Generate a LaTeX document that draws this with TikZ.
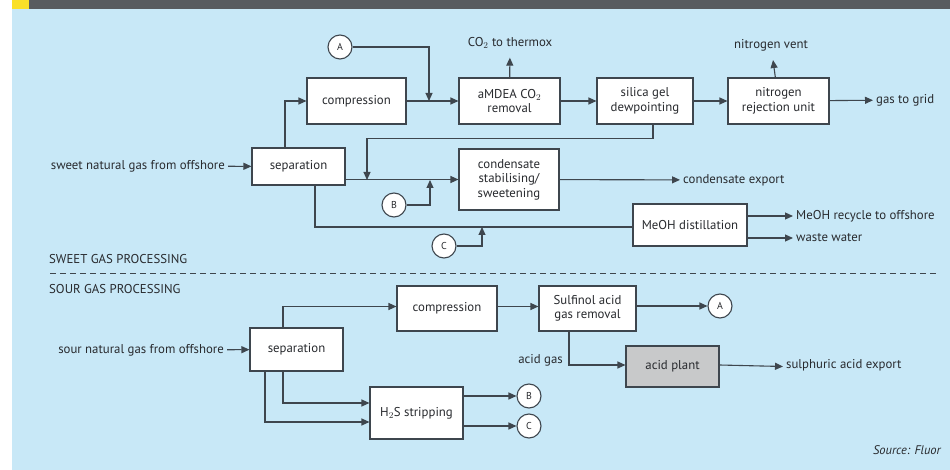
\documentclass[tikz,border=0pt]{standalone}
\usepackage{fontspec}
\setmainfont{PT Sans}
\usetikzlibrary{arrows.meta}
\definecolor{bgblue}{RGB}{200,232,247}
\definecolor{bargray}{RGB}{88,92,96}
\definecolor{baryellow}{RGB}{250,224,40}
\definecolor{plantgray}{RGB}{200,201,202}
\definecolor{linegray}{RGB}{62,70,78}
\definecolor{inkgray}{RGB}{40,42,46}
\tikzset{
  unit/.style={draw=linegray, line width=1.1pt, fill=white, align=center, inner sep=1pt, text=inkgray},
  tag/.style={circle, draw=linegray, line width=1.1pt, fill=white, minimum size=24pt, inner sep=0pt, font=\fontsize{10}{12}\selectfont, text=inkgray},
  label/.style={inner sep=3pt, text=inkgray},
  flow/.style={draw=linegray, line width=1.1pt, -{Triangle[length=8pt,width=7pt]}},
  pipe/.style={draw=linegray, line width=1.1pt}
}
\begin{document}
\begin{tikzpicture}[x=1pt, y=-1pt, font=\fontsize{12.8}{14.5}\selectfont]
        \useasboundingbox (0,0) rectangle (950,470);
        \fill[bgblue] (12,9) rectangle (950,470);
        \fill[bargray] (12,0) rectangle (950,9);
        \fill[baryellow] (12,0) rectangle (29,9);
        % sweet gas processing
        \node[label, anchor=east] (in1) at (228,166) {sweet natural gas from offshore};
        \node[unit, minimum width=93pt, minimum height=37pt] (sep1) at (298.5,166.5) {separation};
        \node[unit, minimum width=99pt, minimum height=46pt] (comp1) at (356.5,101) {compression};
        \node[unit, minimum width=101pt, minimum height=46pt] (amdea) at (509.5,101) {aMDEA CO$_2$\\removal};
        \node[unit, minimum width=96pt, minimum height=46pt] (silica) at (645,101) {silica gel\\dewpointing};
        \node[unit, minimum width=101pt, minimum height=46pt] (nru) at (778.5,101) {nitrogen\\rejection unit};
        \node[unit, minimum width=100pt, minimum height=61pt] (cond) at (509,179.5) {condensate\\stabilising/\\sweetening};
        \node[unit, minimum width=114pt, minimum height=42pt] (meoh) at (690,225) {MeOH distillation};
        \node[tag] (A1) at (340,47) {A};
        \node[tag] (B1) at (394,205) {B};
        \node[tag] (C1) at (444,246) {C};
        \node[label] (co2) at (510,43) {CO$_2$ to thermox};
        \node[label] (vent) at (771,45) {nitrogen vent};
        \node[label, anchor=west] (grid) at (873,100) {gas to grid};
        \node[label, anchor=west] (condexp) at (680,180) {condensate export};
        \node[label, anchor=west] (recycle) at (793,216) {MeOH recycle to offshore};
        \node[label, anchor=west] (waste) at (793,238) {waste water};
        \coordinate (jA) at (429,101);
        \coordinate (jS) at (367,180);
        \coordinate (jB) at (430,180);
        \coordinate (jC) at (482,227);
        \draw[flow] (in1) -- (sep1);
        \draw[flow] ([xshift=-13.5pt]sep1.north) |- (comp1);
        \draw[flow] (comp1) -- (amdea);
        \draw[flow] (A1) -| (jA);
        \draw[flow, shorten >=6pt] (amdea) -- (co2);
        \draw[flow] (amdea) -- (silica);
        \draw[flow] (silica) -- (nru);
        \draw[flow, shorten >=6pt] (nru) -- (vent);
        \draw[flow] (nru) -- (grid);
        \draw[flow] ([xshift=8pt]silica.south) -- ++(0,14) -| (jS);
        \draw[flow] (sep1.east |- cond.west) -- (cond.west);
        \draw[flow] (B1) -| (jB);
        \draw[flow] (cond) -- (condexp);
        \draw[pipe] ([xshift=16.5pt]sep1.south) |- ([yshift=-2pt]meoh.west);
        \draw[flow] (C1) -| (jC);
        \draw[flow] (meoh.east |- recycle) -- (recycle);
        \draw[flow] (meoh.east |- waste) -- (waste);
        % divider
        \node[label, anchor=west] (sweet) at (46,259) {SWEET GAS PROCESSING};
        \node[label, anchor=west] (sour) at (46,289) {SOUR GAS PROCESSING};
        \coordinate (dl) at (50,273);
        \coordinate (dr) at (938,273);
        \draw[pipe, dashed, dash pattern=on 6pt off 4pt, line width=0.8pt] (dl) -- (dr);
        % sour gas processing
        \node[label, anchor=east] (in2) at (227,350) {sour natural gas from offshore};
        \node[unit, minimum width=93pt, minimum height=43pt] (sep2) at (296.5,349.5) {separation};
        \node[unit, minimum width=100pt, minimum height=45pt] (comp2) at (447,308.5) {compression};
        \node[unit, minimum width=97pt, minimum height=45pt] (sulf) at (587.5,308.5) {Sulfinol acid\\gas removal};
        \node[unit, fill=plantgray, minimum width=93pt, minimum height=41pt] (acid) at (672.5,366.5) {acid plant};
        \node[unit, minimum width=93pt, minimum height=52pt] (h2s) at (416.5,413) {H$_2$S stripping};
        \node[tag] (A2) at (720,306) {A};
        \node[tag] (B2) at (529,396) {B};
        \node[tag] (C2) at (529,426) {C};
        \node[label, anchor=east] (acidgas) at (566,360) {acid gas};
        \node[label, anchor=west] (sulph) at (783,365) {sulphuric acid export};
        \draw[flow] (in2) -- (sep2);
        \draw[flow] ([xshift=-13.5pt]sep2.north) |- ([yshift=2pt]comp2.west);
        \draw[flow] ([yshift=2pt]comp2.east) -- ([yshift=2pt]sulf.west);
        \draw[flow] (sulf.east |- A2) -- (A2);
        \draw[flow] ([xshift=-18.5pt]sulf.south) |- ([yshift=1.5pt]acid.west);
        \draw[flow] ([yshift=1.5pt]acid.east) -- (sulph.west |- acid.east);
        \draw[flow] ([xshift=-13.5pt]sep2.south) |- ([yshift=10pt]h2s.west);
        \draw[flow] ([xshift=-31.5pt]sep2.south) |- ([yshift=-9pt]h2s.west);
        \draw[flow] (h2s.east |- B2) -- (B2);
        \draw[flow] (h2s.east |- C2) -- (C2);
        \node[label, anchor=east, font=\fontsize{12.5}{14}\selectfont\itshape] (source) at (944,450) {Source: Fluor};
\end{tikzpicture}
\end{document}
